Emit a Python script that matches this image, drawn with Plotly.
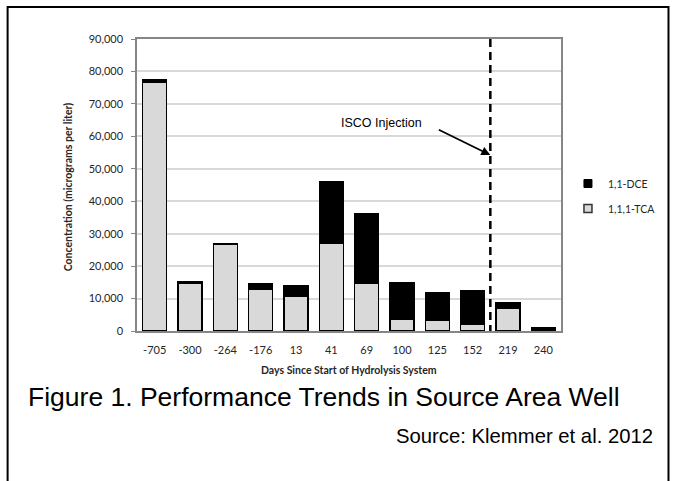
import plotly.graph_objects as go

days = ["-705", "-300", "-264", "-176", "13", "41", "69", "100", "125", "152", "219", "240"]
tca = [76800, 14800, 26700, 12850, 10800, 26900, 14700, 3600, 3400, 2050, 7000, 200]
dce = [600, 400, 300, 1700, 3000, 19200, 21400, 11300, 8400, 10350, 1700, 700]
y_ticks = [0, 10000, 20000, 30000, 40000, 50000, 60000, 70000, 80000, 90000]
y_tick_text = ["0", "10,000", "20,000", "30,000", "40,000", "50,000", "60,000", "70,000", "80,000", "90,000"]
injection_pos = 9.5
arrow_value = 54250

W, H = 673, 481
L, R, T, B = 137, 563, 39, 331
pw, ph = R - L, B - T

def px(x):
    return (x - L) / pw

def py(y):
    return (B - y) / ph

tick_font = dict(family="Lato, Calibri, sans-serif", size=11, color="#262626")

fig = go.Figure()
fig.add_trace(go.Bar(x=days, y=tca, name="1,1,1-TCA", marker=dict(color="#d9d9d9", line=dict(color="#000000", width=1.5)), showlegend=False))
fig.add_trace(go.Bar(x=days, y=dce, name="1,1-DCE", marker=dict(color="#000000", line=dict(color="#000000", width=1.5)), showlegend=False))
# legend proxies
fig.add_trace(go.Scatter(x=[None], y=[None], mode="markers", name="1,1-DCE", legendgroup="a",
                         marker=dict(symbol="square", size=8, color="#000000", line=dict(color="#000000", width=1))))
fig.add_trace(go.Scatter(x=[None], y=[None], mode="markers", name="1,1,1-TCA", legendgroup="b",
                         marker=dict(symbol="square", size=8, color="#d9d9d9", line=dict(color="#333333", width=1.5))))

fig.update_layout(
    width=W, height=H,
    margin=dict(l=L, r=W - R, t=T, b=H - B, pad=0),
    paper_bgcolor="white", plot_bgcolor="white",
    barmode="stack", bargap=0.32,
    font=tick_font,
    legend=dict(x=px(570), y=py(169), xanchor="left", yanchor="top", traceorder="grouped",
                tracegroupgap=6, font=dict(family="Lato, Calibri, sans-serif", size=10.5, color="#262626"),
                itemwidth=30, bgcolor="rgba(0,0,0,0)"),
    xaxis=dict(type="category", showgrid=False, showline=True, linecolor="#868686", linewidth=1.5,
               mirror=True, ticks="", tickfont=tick_font, ticklabelstandoff=8, range=[-0.5, 11.5]),
    yaxis=dict(range=[0, 90000], tickvals=y_ticks, ticktext=y_tick_text, showgrid=True,
               gridcolor="#d9d9d9", gridwidth=1.5, showline=True, linecolor="#868686", linewidth=1.5,
               mirror=True, ticks="outside", ticklen=4, tickcolor="#868686", tickfont=tick_font,
               ticklabelstandoff=6, zeroline=False),
    shapes=[
        dict(type="line", xref="x", yref="y", x0=injection_pos, x1=injection_pos, y0=-600, y1=90000,
             line=dict(color="#000000", width=2.5, dash="8px,5px")),
        dict(type="rect", xref="paper", yref="paper", x0=px(7), x1=px(671), y0=py(7), y1=py(500),
             line=dict(color="#000000", width=2)),
    ],
    annotations=[
        dict(x=injection_pos, y=arrow_value, xref="x", yref="y", text="", showarrow=True,
             ax=-53, ay=-26, arrowhead=2, arrowsize=1, arrowwidth=1.8, arrowcolor="#000000", standoff=0),
        dict(x=px(383), y=py(123), xref="paper", yref="paper", text="ISCO Injection", showarrow=False,
             font=dict(family="Liberation Sans, Arial, sans-serif", size=12.5, color="#000000"),
             xanchor="center", yanchor="middle"),
        dict(x=px(68), y=py(187), xref="paper", yref="paper", text="<b>Concentration (micrograms per liter)</b>",
             textangle=-90, showarrow=False, font=dict(family="Lato, Calibri, sans-serif", size=10.5, color="#262626"),
             xanchor="center", yanchor="middle"),
        dict(x=px(350), y=py(370), xref="paper", yref="paper", text="<b>Days Since Start of Hydrolysis System</b>",
             showarrow=False, font=dict(family="Lato, Calibri, sans-serif", size=10.5, color="#262626"),
             xanchor="center", yanchor="middle"),
        dict(x=px(25), y=py(397), xref="paper", yref="paper", text="Figure 1. Performance Trends in Source Area Well",
             showarrow=False, font=dict(family="Liberation Sans, Arial, sans-serif", size=26.5, color="#000000"),
             xanchor="left", yanchor="middle"),
        dict(x=px(657), y=py(436), xref="paper", yref="paper", text="Source: Klemmer et al. 2012",
             showarrow=False, font=dict(family="Liberation Sans, Arial, sans-serif", size=20.3, color="#000000"),
             xanchor="right", yanchor="middle"),
    ],
)

fig.write_html("out.html", config={"displayModeBar": False},
               post_script="document.body.style.margin='0';document.body.style.overflow='hidden';")
